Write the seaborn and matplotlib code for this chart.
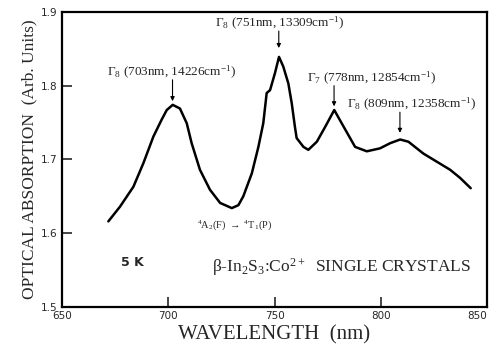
import matplotlib
matplotlib.use("Agg")
import matplotlib.pyplot as plt
import seaborn as sns
import pandas as pd

wavelength = [671.8, 677.3, 683.6, 688.3, 693.0, 696.9, 699.3, 702.1, 705.5, 708.7,
              711.0, 714.9, 719.6, 724.4, 729.9, 733.0, 735.3, 739.3, 742.4, 744.7,
              746.3, 747.9, 750.2, 752.1, 754.1, 756.5, 758.1, 759.6, 760.4, 763.6,
              765.9, 769.9, 773.8, 778.1, 781.6, 787.9, 793.4, 799.6, 804.4, 809.1,
              813.0, 820.0, 826.3, 832.6, 837.3, 842.3]
absorption = [1.616, 1.636, 1.663, 1.695, 1.731, 1.754, 1.767, 1.774, 1.769, 1.749,
              1.722, 1.686, 1.659, 1.641, 1.634, 1.638, 1.650, 1.681, 1.717, 1.749,
              1.790, 1.794, 1.817, 1.839, 1.826, 1.803, 1.776, 1.744, 1.729, 1.717,
              1.713, 1.724, 1.744, 1.767, 1.749, 1.717, 1.711, 1.715, 1.722, 1.727,
              1.724, 1.708, 1.697, 1.686, 1.675, 1.661]

x_ticks = [650, 700, 750, 800, 850]
y_ticks = [1.5, 1.6, 1.7, 1.8, 1.9]

peak_labels = [r"$\Gamma_8$ (703nm, 14226cm$^{-1}$)",
               r"$\Gamma_8$ (751nm, 13309cm$^{-1}$)",
               r"$\Gamma_7$ (778nm, 12854cm$^{-1}$)",
               r"$\Gamma_8$ (809nm, 12358cm$^{-1}$)"]
peak_x = [702, 752, 778, 809]
arrow_tip = [1.779, 1.851, 1.772, 1.736]
arrow_top = [1.808, 1.874, 1.800, 1.764]
label_x = [701.8, 752.6, 765.5, 784.0]
label_y = [1.818, 1.884, 1.810, 1.774]
label_ha = ["center", "center", "left", "left"]

sns.set_style("ticks")
plt.rcParams['font.family'] = ['Liberation Serif', 'DejaVu Serif']
plt.rcParams['mathtext.fontset'] = 'custom'
plt.rcParams['mathtext.rm'] = 'Liberation Serif'
plt.rcParams['mathtext.it'] = 'Liberation Serif'

df = pd.DataFrame({"wavelength": wavelength, "absorption": absorption})

fig = plt.figure(figsize=(4.96, 3.5), dpi=100)
ax = fig.add_axes([0.125, 0.123, 0.857, 0.843])
sns.lineplot(data=df, x="wavelength", y="absorption", ax=ax, color="black", linewidth=1.8)

ax.set_xlim(650, 850)
ax.set_ylim(1.5, 1.9)
ax.set_xticks(x_ticks)
ax.set_yticks(y_ticks)
ax.set_xticklabels([str(v) for v in x_ticks], family="DejaVu Sans", fontsize=7.5)
ax.set_yticklabels([f"{v:.1f}" for v in y_ticks], family="DejaVu Sans", fontsize=7.5)
ax.tick_params(direction="in", length=7, width=1.2, pad=3)
lbls = ax.get_xticklabels()
lbls[-1].set_horizontalalignment("right")
lbls[-1].set_x(849)
for s in ax.spines.values():
    s.set_linewidth(1.6)
    s.set_color("black")

ax.set_xlabel("WAVELENGTH  (nm)", fontsize=15, labelpad=3)
ax.set_ylabel("OPTICAL ABSORPTION  (Arb. Units)", fontsize=12.5, labelpad=3)

for lab, px, tip, top, lx, ly, ha in zip(peak_labels, peak_x, arrow_tip, arrow_top,
                                         label_x, label_y, label_ha):
    ax.annotate("", xy=(px, tip), xytext=(px, top),
                arrowprops=dict(arrowstyle="-|>", color="black", lw=0.8,
                                mutation_scale=6, shrinkA=0, shrinkB=0))
    ax.text(lx, ly, lab, ha=ha, va="center", fontsize=9.5)

ax.text(731, 1.611, r"$^4$A$_2$(F) $\rightarrow$ $^4$T$_1$(P)", ha="center", va="center", fontsize=7.5)
ax.text(683, 1.560, "5 K", family="DejaVu Sans", fontweight="bold", fontsize=9, ha="center", va="center")
ax.text(720.6, 1.554, r"$\beta$-In$_2$S$_3$:Co$^{2+}$  SINGLE CRYSTALS", ha="left", va="center", fontsize=12.5)

fig.savefig("out.png", dpi=100)
